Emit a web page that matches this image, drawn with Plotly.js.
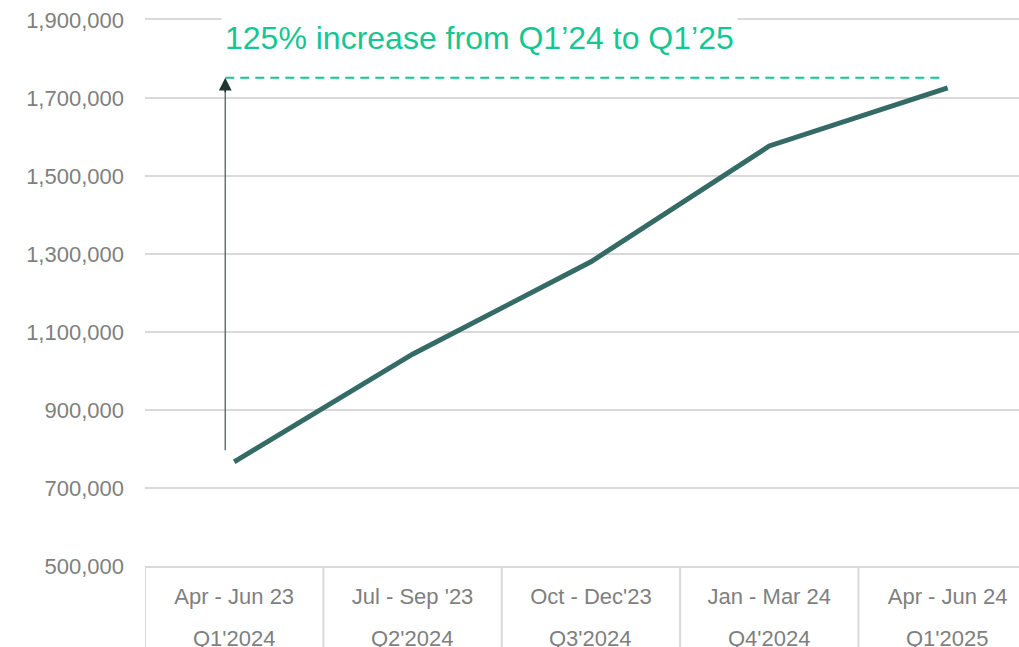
<!DOCTYPE html>
<html>
<head>
<meta charset="utf-8">
<script src="https://cdn.plot.ly/plotly-3.0.1.min.js"></script>
<style>html,body{margin:0;padding:0;background:#fff;}#chart{width:1019px;height:647px;}</style>
</head>
<body>
<div id="chart"></div>
<script>
// Data
const periods = ["Apr - Jun 23", "Jul - Sep '23", "Oct - Dec'23", "Jan - Mar 24", "Apr - Jun 24"];
const quarters = ["Q1'2024", "Q2'2024", "Q3'2024", "Q4'2024", "Q1'2025"];
const values = [767000, 1043000, 1280000, 1577000, 1726000];
const yTicks = [500000, 700000, 900000, 1100000, 1300000, 1500000, 1700000, 1900000];
const annotationText = "125% increase from Q1\u201924 to Q1\u201925";
const targetLevel = 1752000;
const arrowBase = 797000;

const xIdx = periods.map((_, i) => i);
const font = "Liberation Sans, Arial, sans-serif";
const gray = "#7f7f7f";
const grid = "#d9d9d9";
const green = "#14c792";

const trace = {
  x: xIdx, y: values, type: "scatter", mode: "lines",
  line: {color: "#346b66", width: 5},
  hoverinfo: "skip"
};

const shapes = [];
for (let i = 0; i <= periods.length; i++) {
  shapes.push({type: "line", xref: "x", yref: "paper", x0: i - 0.5, x1: i - 0.5, y0: 0, y1: -0.2,
    line: {color: grid, width: 2}});
}
shapes.push({type: "line", xref: "x", yref: "y", x0: -0.05, x1: periods.length - 1.02,
  y0: targetLevel, y1: targetLevel, line: {color: green, width: 2, dash: "9px,6px"}});
shapes.push({type: "line", xref: "x", yref: "y", x0: -0.05, x1: -0.05,
  y0: arrowBase, y1: targetLevel - 20000, line: {color: "#66736f", width: 1.5}});

const annotations = quarters.map((q, i) => ({
  x: i, xref: "x", y: -0.132, yref: "paper", text: q, showarrow: false,
  yanchor: "middle", xanchor: "center", font: {family: font, size: 22, color: gray}
}));
annotations.push({
  x: 1.375, xref: "x", y: 1853000, yref: "y", xanchor: "center", yanchor: "middle",
  text: annotationText, showarrow: false, bgcolor: "#ffffff", borderpad: 3,
  font: {family: font, size: 32, color: green}
});
annotations.push({
  x: -0.05, xref: "x", y: targetLevel, yref: "y", text: "", showarrow: true,
  ax: 0, ay: 16, axref: "pixel", ayref: "pixel",
  arrowhead: 2, arrowsize: 1.7, arrowwidth: 1.5, arrowcolor: "#1f3531"
});

const layout = {
  width: 1019, height: 647,
  margin: {l: 145, r: 0, t: 20, b: 81},
  paper_bgcolor: "#fff", plot_bgcolor: "#fff",
  showlegend: false,
  font: {family: font, size: 22, color: gray},
  xaxis: {
    range: [-0.5, periods.length - 0.6], tickmode: "array", tickvals: xIdx, ticktext: periods,
    showgrid: false, zeroline: false, showline: true, mirror: true, linecolor: grid, linewidth: 2,
    ticks: "", ticklabelstandoff: 10, tickfont: {family: font, size: 22, color: gray}, fixedrange: true
  },
  yaxis: {
    range: [500000, 1900000], tickmode: "array", tickvals: yTicks,
    ticktext: yTicks.map(v => v.toLocaleString("en-US")),
    showgrid: true, gridcolor: grid, gridwidth: 2, zeroline: false,
    showline: false, ticks: "", ticklabelstandoff: 20,
    tickfont: {family: font, size: 22, color: gray}, fixedrange: true
  },
  shapes: shapes,
  annotations: annotations
};

Plotly.newPlot("chart", [trace], layout, {displayModeBar: false, staticPlot: true});
</script>
</body>
</html>
